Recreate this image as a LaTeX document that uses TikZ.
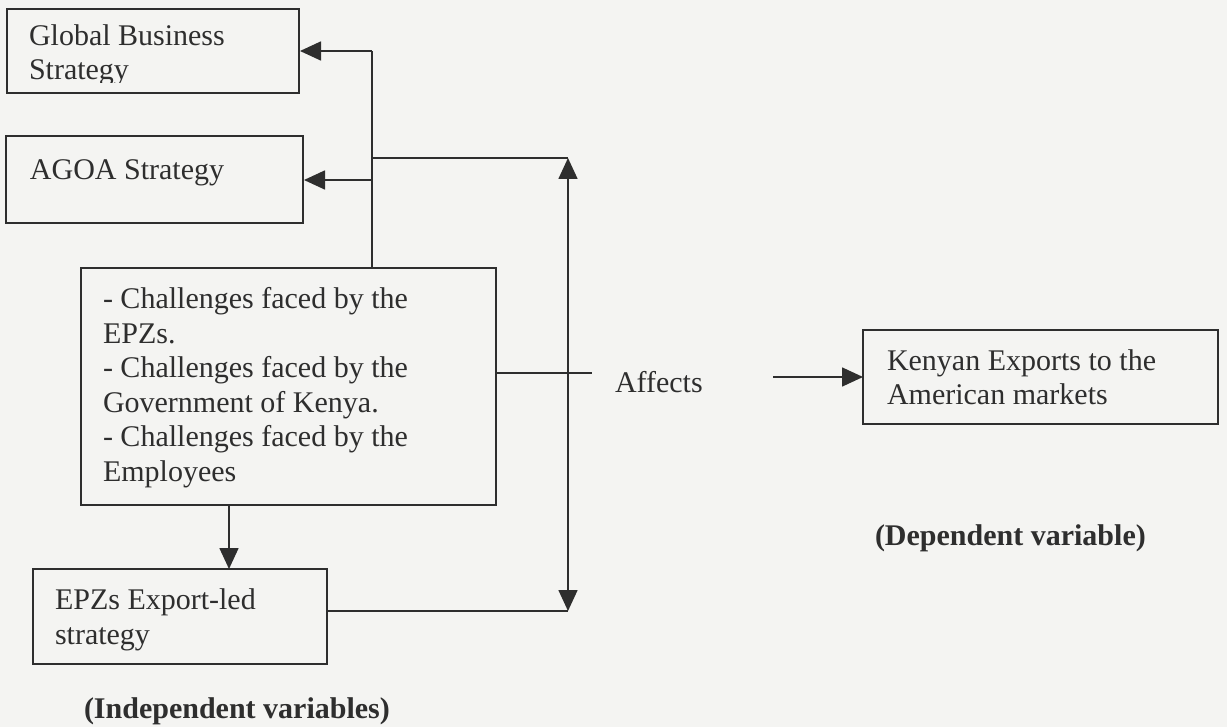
\documentclass[tikz,border=0pt]{standalone}
\usepackage{fontspec}
\setmainfont{Liberation Serif}
\usetikzlibrary{arrows.meta}
\definecolor{ink}{HTML}{2E2E2E}
\definecolor{paper}{HTML}{F4F4F2}
\begin{document}
\begin{tikzpicture}[x=1pt,y=-1pt,
  every node/.style={inner sep=0pt,outer sep=0pt,text=ink},
  boxline/.style={draw=ink,line width=1.8pt},
  lbl/.style={anchor=base west,font=\fontsize{30}{34.5}\selectfont,align=left},
  bold/.style={anchor=base west,font=\fontsize{30}{35}\selectfont\bfseries},
  conn/.style={draw=ink,line width=1.7pt},
  arr/.style={conn,-{Triangle[length=21pt,width=19pt]}},
  darr/.style={conn,{Triangle[length=21pt,width=19pt]}-{Triangle[length=21pt,width=19pt]}}]
\fill[paper] (0,0) rectangle (1227,727);
\useasboundingbox (0,0) rectangle (1227,727);
% boxes
\draw[boxline] (7,9) rectangle (299,93);
\coordinate (b1r) at (300,51);
\draw[boxline] (6,136) rectangle (303,223);
\coordinate (b2r) at (304,180);
\draw[boxline] (81,268) rectangle (496,505);
\coordinate (b3t) at (372,268);
\coordinate (b3r) at (496,373);
\coordinate (b3b) at (229,505);
\draw[boxline] (863,330) rectangle (1218,424);
\coordinate (b4l) at (863,377);
\draw[boxline] (33,569) rectangle (327,664);
\coordinate (b5t) at (229,569);
\coordinate (b5r) at (327,611);
% texts (base anchor = baseline of the last line)
\begin{scope}
\clip (7,9) rectangle (299,83);
\node[lbl] (t1) at (29,80) {Global Business\\Strategy};
\end{scope}
\node[lbl] (t2) at (30,180) {AGOA Strategy};
\node[lbl] (t3) at (103,481) {- Challenges faced by the\\EPZs.\\- Challenges faced by the\\Government of Kenya.\\- Challenges faced by the\\Employees};
\node[lbl] (t4) at (887,405) {Kenyan Exports to the\\American markets};
\node[lbl] (t5) at (55,644) {EPZs Export-led\\strategy};
\node[lbl] (aff) at (615,392) {Affects};
\node[bold] (dep) at (875,545) {(Dependent variable)};
\node[bold] (ind) at (84,718) {(Independent variables)};
% connectors
\coordinate (v1) at (372,51);
\coordinate (v2) at (372,180);
\coordinate (v3) at (372,158);
\coordinate (up) at (568,158);
\coordinate (dn) at (568,611);
\coordinate (stub) at (592,373);
\coordinate (a1) at (773,377);
\draw[conn] (b3t) -- (v1);
\draw[arr] (v1) -- (b1r);
\draw[arr] (v2) -- (b2r);
\draw[conn] (v3) -- (up);
\draw[darr] (dn) -- (up);
\draw[conn] (b3r) -- (stub);
\draw[arr] (a1) -- (b4l);
\draw[arr] (b3b) -- (b5t);
\draw[conn] (b5r) -- (dn);
\end{tikzpicture}
\end{document}
